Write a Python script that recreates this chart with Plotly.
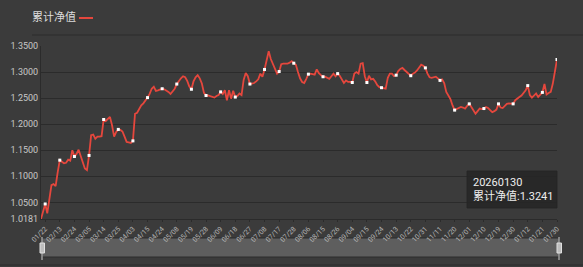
import plotly.graph_objects as go

series_name = "累计净值"
last_date = "20260130"

tick_labels = ["01/22", "02/13", "02/24", "03/05", "03/14", "03/25", "04/03", "04/15",
               "04/24", "05/08", "05/19", "05/28", "06/09", "06/18", "06/27", "07/08",
               "07/17", "07/28", "08/06", "08/15", "08/26", "09/04", "09/15", "09/24",
               "10/13", "10/22", "10/31", "11/11", "11/20", "12/01", "12/10", "12/19",
               "12/30", "01/12", "01/21", "01/30"]

nav = [
    1.0181, 1.034, 1.047, 1.029, 1.060, 1.083, 1.085, 1.081, 1.108, 1.131,
    1.128, 1.125, 1.126, 1.132, 1.130, 1.150, 1.138, 1.143, 1.151, 1.140,
    1.127, 1.115, 1.112, 1.140, 1.179, 1.180, 1.172, 1.176, 1.176, 1.177,
    1.209, 1.206, 1.210, 1.214, 1.198, 1.176, 1.185, 1.190, 1.189, 1.186,
    1.176, 1.166, 1.165, 1.164, 1.168, 1.220, 1.222, 1.230, 1.236, 1.240,
    1.245, 1.251, 1.258, 1.268, 1.272, 1.264, 1.265, 1.266, 1.268, 1.267,
    1.265, 1.262, 1.258, 1.262, 1.268, 1.277, 1.283, 1.288, 1.292, 1.290,
    1.283, 1.272, 1.267, 1.282, 1.290, 1.294, 1.288, 1.278, 1.260, 1.255,
    1.255, 1.254, 1.252, 1.251, 1.254, 1.256, 1.262, 1.258, 1.265, 1.246,
    1.265, 1.249, 1.264, 1.252, 1.254, 1.259, 1.256, 1.285, 1.298, 1.292,
    1.277, 1.278, 1.279, 1.282, 1.286, 1.297, 1.291, 1.305, 1.322, 1.340,
    1.325, 1.316, 1.305, 1.297, 1.301, 1.315, 1.316, 1.316, 1.316, 1.318,
    1.321, 1.317, 1.314, 1.300, 1.288, 1.281, 1.279, 1.287, 1.296, 1.297,
    1.296, 1.295, 1.305, 1.298, 1.294, 1.291, 1.291, 1.289, 1.287, 1.292,
    1.297, 1.292, 1.297, 1.293, 1.286, 1.279, 1.284, 1.281, 1.281, 1.280,
    1.297, 1.300, 1.297, 1.316, 1.317, 1.292, 1.280, 1.293, 1.286, 1.287,
    1.282, 1.275, 1.271, 1.270, 1.269, 1.268, 1.289, 1.297, 1.297, 1.292,
    1.294, 1.302, 1.306, 1.308, 1.304, 1.300, 1.296, 1.293, 1.297, 1.299,
    1.303, 1.308, 1.314, 1.312, 1.308, 1.297, 1.290, 1.289, 1.290, 1.291,
    1.288, 1.284, 1.286, 1.279, 1.262, 1.254, 1.248, 1.236, 1.227, 1.229,
    1.231, 1.233, 1.232, 1.230, 1.235, 1.239, 1.233, 1.226, 1.220, 1.225,
    1.230, 1.229, 1.230, 1.233, 1.231, 1.227, 1.223, 1.225, 1.228, 1.239,
    1.232, 1.231, 1.236, 1.239, 1.240, 1.239, 1.239, 1.246, 1.250, 1.252,
    1.255, 1.259, 1.265, 1.274, 1.256, 1.251, 1.255, 1.259, 1.252, 1.256,
    1.261, 1.277, 1.257, 1.260, 1.262, 1.278, 1.303, 1.3241,
]

y_ticks = [1.0181, 1.05, 1.10, 1.15, 1.20, 1.25, 1.30, 1.35]

BG = "#3b3b3b"
GRID = "#2b2b2b"
RED = "#e5473d"
FONT = "Roboto, 'Noto Sans CJK SC', sans-serif"

x = list(range(len(nav)))
step = 7
first = 2
mark_x = list(range(first, len(nav), step))
mark_y = [nav[i] for i in mark_x]

fig = go.Figure()
fig.add_trace(go.Scatter(x=x, y=nav, mode="lines", name=series_name,
                         line=dict(color=RED, width=1.8), hoverinfo="skip"))
fig.add_trace(go.Scatter(x=mark_x, y=mark_y, mode="markers", showlegend=False,
                         marker=dict(symbol="square", size=3, color="white",
                                     line=dict(width=0)), hoverinfo="skip"))

L, R, T, B = 41, 26, 46, 48
W, H = 583, 267
pw = W - L - R
ph = H - T - B


def px(xp):
    return (xp - L) / pw


def py(yp):
    return (H - B - yp) / ph


shapes = [
    # separator under legend
    dict(type="line", xref="paper", yref="paper", x0=px(32), x1=px(583), y0=py(35), y1=py(35),
         line=dict(color="#2d2d2d", width=1)),
    # legend line symbol
    dict(type="line", xref="paper", yref="paper", x0=px(79), x1=px(93), y0=py(18), y1=py(18),
         line=dict(color=RED, width=2)),
    # data zoom slider
    dict(type="rect", xref="paper", yref="paper", x0=px(42), x1=px(559), y0=py(238), y1=py(257),
         fillcolor="#5e5e5e", line=dict(color="#2d2d2d", width=1), layer="below"),
    dict(type="line", xref="paper", yref="paper", x0=px(0), x1=px(583), y0=py(265), y1=py(265),
         line=dict(color="#2d2d2d", width=1)),
    # handles
    dict(type="line", xref="paper", yref="paper", x0=px(42), x1=px(42), y0=py(237), y1=py(260),
         line=dict(color="#d0d0d0", width=1)),
    dict(type="rect", xref="paper", yref="paper", x0=px(40), x1=px(44.5), y0=py(243), y1=py(253),
         fillcolor="#bdbdbd", line=dict(color="#e0e0e0", width=1)),
    dict(type="line", xref="paper", yref="paper", x0=px(559), x1=px(559), y0=py(237), y1=py(260),
         line=dict(color="#d0d0d0", width=1)),
    dict(type="rect", xref="paper", yref="paper", x0=px(557), x1=px(561.5), y0=py(243), y1=py(253),
         fillcolor="#bdbdbd", line=dict(color="#e0e0e0", width=1)),
    # tooltip box
    dict(type="rect", xref="paper", yref="paper", x0=px(467), x1=px(557), y0=py(171), y1=py(208),
         fillcolor="rgba(38,38,38,0.88)", line=dict(color="rgba(38,38,38,0.88)", width=1)),
]

annotations = [
    dict(xref="paper", yref="paper", x=px(30), y=py(17.5), xanchor="left", yanchor="middle",
         text=series_name, showarrow=False, font=dict(size=11, color="#dddddd", family=FONT)),
    dict(xref="paper", yref="paper", x=px(471), y=py(189.5), xanchor="left", yanchor="middle",
         align="left", showarrow=False,
         text=f"{last_date}<br>{series_name}:{nav[-1]:.4f}",
         font=dict(size=11, color="#eeeeee", family=FONT)),
]

fig.update_layout(
    width=W, height=H,
    margin=dict(l=L, r=R, t=T, b=B, pad=0),
    paper_bgcolor=BG, plot_bgcolor=BG,
    showlegend=False,
    font=dict(family=FONT, color="#c8c8c8"),
    shapes=shapes, annotations=annotations,
    xaxis=dict(range=[0, len(nav) - 1], tickmode="array",
               tickvals=mark_x, ticktext=tick_labels, tickangle=-45,
               tickfont=dict(size=7, color="#b4b4b4"),
               showgrid=False, zeroline=False, showline=True, linecolor=GRID, linewidth=1,
               ticks="outside", ticklen=2, tickcolor=GRID),
    yaxis=dict(range=[y_ticks[0], y_ticks[-1]], tickmode="array", tickvals=y_ticks,
               ticktext=[f"{v:.4f}" for v in y_ticks],
               tickfont=dict(size=9, color="#c8c8c8"),
               showgrid=True, gridcolor=GRID, gridwidth=1, zeroline=False,
               showline=True, linecolor=GRID, linewidth=1, ticks=""),
)

fig.write_html("out.html")
